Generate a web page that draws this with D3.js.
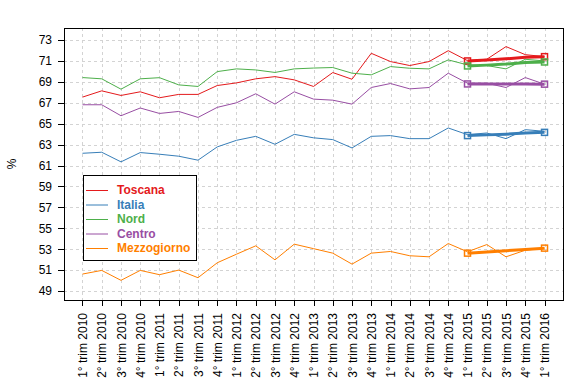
<!DOCTYPE html>
<html>
<head>
<meta charset="utf-8">
<script src="https://cdn.jsdelivr.net/npm/d3@7"></script>
<style>
  body { margin: 0; background: #fff; }
  svg { display: block; font-family: "Liberation Sans", Arial, sans-serif; }
  .grid line { stroke: #d3d3d3; stroke-dasharray: 3,3; shape-rendering: crispEdges; }
  .axis path { display: none; }
  .axis line { stroke: #000; shape-rendering: crispEdges; }
  .axis text { font-size: 12px; fill: #000; }
</style>
</head>
<body>
<svg width="571" height="380"></svg>
<script>
// quarters
var quarters = [
  "1° trim 2010","2° trim 2010","3° trim 2010","4° trim 2010",
  "1° trim 2011","2° trim 2011","3° trim 2011","4° trim 2011",
  "1° trim 2012","2° trim 2012","3° trim 2012","4° trim 2012",
  "1° trim 2013","2° trim 2013","3° trim 2013","4° trim 2013",
  "1° trim 2014","2° trim 2014","3° trim 2014","4° trim 2014",
  "1° trim 2015","2° trim 2015","3° trim 2015","4° trim 2015",
  "1° trim 2016"
];

var yTicks = [49, 51, 53, 55, 57, 59, 61, 63, 65, 67, 69, 71, 73];

var toscana = [67.54, 68.14, 67.70, 68.05, 67.48, 67.80, 67.80, 68.65, 68.90, 69.29, 69.50, 69.19, 68.56,
               69.89, 69.25, 71.73, 70.94, 70.56, 70.94, 71.98, 71.03, 71.16, 72.37, 71.60, 71.41];
var italia  = [62.17, 62.27, 61.35, 62.24, 62.08, 61.89, 61.51, 62.78, 63.41, 63.79, 63.03, 63.98, 63.65,
               63.48, 62.68, 63.79, 63.86, 63.57, 63.57, 64.59, 63.95, 64.11, 63.57, 64.43, 64.27];
var nord    = [69.41, 69.29, 68.30, 69.29, 69.40, 68.71, 68.56, 69.98, 70.24, 70.14, 69.90, 70.24, 70.32,
               70.37, 69.83, 69.67, 70.46, 70.30, 70.24, 71.10, 70.62, 70.56, 70.24, 71.16, 71.00];
var centro  = [66.81, 66.81, 65.76, 66.50, 65.98, 66.17, 65.60, 66.56, 67.00, 67.86, 66.87, 68.05, 67.35,
               67.25, 66.87, 68.46, 68.84, 68.33, 68.46, 69.83, 68.87, 68.87, 68.46, 69.41, 68.78];
var mezzo   = [50.62, 50.97, 50.02, 50.97, 50.56, 51.00, 50.27, 51.70, 52.52, 53.32, 51.98, 53.48, 53.05,
               52.62, 51.57, 52.62, 52.78, 52.37, 52.27, 53.54, 52.75, 53.44, 52.27, 52.90, 53.10];

// thick trend over the last five quarters
var trendStart = 20;
var toscanaTrend = [71.00, 71.08, 71.20, 71.35, 71.41];
var italiaTrend  = [63.86, 63.93, 64.00, 64.10, 64.17];
var nordTrend    = [70.52, 70.60, 70.70, 70.85, 70.90];
var centroTrend  = [68.80, 68.80, 68.80, 68.79, 68.78];
var mezzoTrend   = [52.62, 52.72, 52.85, 52.98, 53.10];

var names  = ["Toscana", "Italia", "Nord", "Centro", "Mezzogiorno"];
var colors = ["#E41A1C", "#377EB8", "#4DAF4A", "#984EA3", "#FF7F00"];

var series = [
  {name: names[0], color: colors[0], values: toscana, trend: toscanaTrend},
  {name: names[1], color: colors[1], values: italia,  trend: italiaTrend},
  {name: names[2], color: colors[2], values: nord,    trend: nordTrend},
  {name: names[3], color: colors[3], values: centro,  trend: centroTrend},
  {name: names[4], color: colors[4], values: mezzo,   trend: mezzoTrend}
];

var svg = d3.select("svg");
var pL = 64, pR = 563, pT = 28, pB = 300;

var x = d3.scaleLinear().domain([-0.96, quarters.length - 1 + 0.96]).range([pL, pR]);
var y = d3.scaleLinear().domain([48.14, 74.15]).range([pB, pT]);

svg.append("rect").attr("width", 571).attr("height", 380).attr("fill", "#fff");

// grid
var grid = svg.append("g").attr("class", "grid");
grid.selectAll(".h").data(yTicks).enter().append("line")
  .attr("x1", pL).attr("x2", pR)
  .attr("y1", function(d) { return Math.round(y(d)) + 0.5; })
  .attr("y2", function(d) { return Math.round(y(d)) + 0.5; });
grid.selectAll(".v").data(quarters).enter().append("line")
  .attr("y1", pT).attr("y2", pB)
  .attr("x1", function(d, i) { return Math.round(x(i)) + 0.5; })
  .attr("x2", function(d, i) { return Math.round(x(i)) + 0.5; });

// axes
svg.append("g").attr("class", "axis")
  .attr("transform", "translate(" + pL + ",0)")
  .call(d3.axisLeft(y).tickValues(yTicks).tickSize(6).tickPadding(6));

var xAxis = svg.append("g").attr("class", "axis")
  .attr("transform", "translate(0," + pB + ")")
  .call(d3.axisBottom(x).tickValues(d3.range(quarters.length)).tickSize(6)
    .tickFormat(function(i) { return quarters[i]; }));
xAxis.selectAll("text")
  .attr("transform", "rotate(-90)")
  .attr("text-anchor", "end")
  .attr("x", -13).attr("y", 0).attr("dy", "0.35em");

svg.append("text")
  .attr("transform", "translate(16," + ((pT + pB) / 2) + ") rotate(-90)")
  .attr("text-anchor", "middle")
  .attr("font-size", "12px")
  .text("%");

// lines
var line = d3.line()
  .x(function(d, i) { return x(i); })
  .y(function(d) { return y(d); });

var trendLine = d3.line()
  .x(function(d, i) { return x(trendStart + i); })
  .y(function(d) { return y(d); });

svg.append("g").selectAll("path").data(series).enter().append("path")
  .attr("fill", "none")
  .attr("stroke", function(d) { return d.color; })
  .attr("stroke-width", 1)
  .attr("d", function(d) { return line(d.values); });

var trends = svg.append("g").selectAll("g").data(series).enter().append("g");
trends.append("path")
  .attr("fill", "none")
  .attr("stroke", function(d) { return d.color; })
  .attr("stroke-width", 3)
  .attr("d", function(d) { return trendLine(d.trend); });
trends.selectAll("rect")
  .data(function(d) {
    return [0, d.trend.length - 1].map(function(k) { return {i: trendStart + k, v: d.trend[k], color: d.color}; });
  })
  .enter().append("rect")
  .attr("x", function(d) { return x(d.i) - 3; })
  .attr("y", function(d) { return y(d.v) - 3; })
  .attr("width", 6).attr("height", 6)
  .attr("fill", "none")
  .attr("stroke", function(d) { return d.color; })
  .attr("stroke-width", 1.5);

// box
svg.append("rect")
  .attr("x", pL + 0.5).attr("y", pT + 0.5)
  .attr("width", pR - pL).attr("height", pB - pT)
  .attr("fill", "none").attr("stroke", "#000");

// legend
var lg = svg.append("g");
lg.append("rect")
  .attr("x", 83.5).attr("y", 175.5).attr("width", 113).attr("height", 85)
  .attr("fill", "#fff").attr("stroke", "#000");
var items = lg.selectAll("g").data(series).enter().append("g")
  .attr("transform", function(d, i) { return "translate(0," + (190 + i * 14.5) + ")"; });
items.append("line")
  .attr("x1", 86).attr("x2", 108).attr("y1", 0.5).attr("y2", 0.5)
  .attr("stroke", function(d) { return d.color; });
items.append("text")
  .attr("x", 117).attr("dy", "0.35em")
  .attr("font-size", "12px").attr("font-weight", "bold")
  .attr("fill", function(d) { return d.color; })
  .text(function(d) { return d.name; });
</script>
</body>
</html>
